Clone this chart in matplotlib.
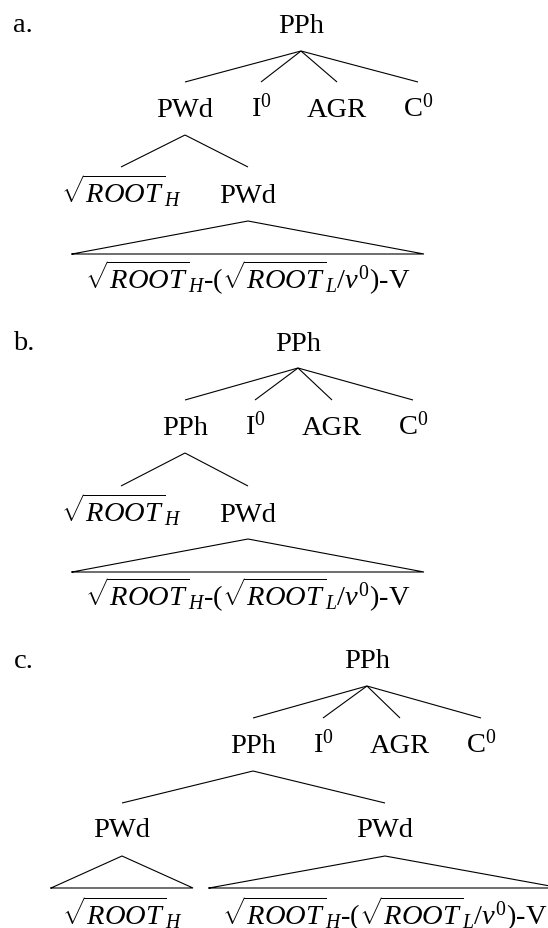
import matplotlib.pyplot as plt

# fonts: serif for labels, same family inside mathtext
plt.rcParams['font.family'] = 'Liberation Serif'
plt.rcParams['mathtext.fontset'] = 'custom'
plt.rcParams['mathtext.rm'] = 'Liberation Serif'
plt.rcParams['mathtext.it'] = 'Liberation Serif:italic'

FS = 20.5
LW = 0.8

'''
======================= tree labels =======================
'''
panel_tags = ['a.', 'b.', 'c.']
root_label = 'PPh'
head_labels = [['PWd', 'I$^0$', 'AGR', 'C$^0$'],
               ['PPh', 'I$^0$', 'AGR', 'C$^0$'],
               ['PPh', 'I$^0$', 'AGR', 'C$^0$']]
root_h = r'$\sqrt{ROOT}_H$'
full_word = r'$\sqrt{ROOT}_H$-($\sqrt{ROOT}_L/v^0$)-V'
low_labels = [[root_h, 'PWd'],
              [root_h, 'PWd'],
              ['PWd', 'PWd']]
# which low nodes get a roof, and what sits under it
roof_nodes = [[1], [1], [0, 1]]
leaf_labels = [[full_word], [full_word], [root_h, full_word]]

'''
======================= layout (pixels, y down) =======================
'''
tag_pos = [(13, 32), (13, 350), (14, 668)]
root_x = [301, 298, 367]
root_base = [33, 351, 668]
root_apex = [52, 369, 687]
head_x = [[185, 261, 337, 418], [185, 255, 332, 413], [253, 323, 400, 481]]
head_top = [83, 401, 719]
head_base = [117, 435, 753]
low_apex = [136, 454, 772]
low_x = [[121, 248], [121, 248], [122, 385]]
low_top = [168, 487, 804]
low_base = [203, 522, 837]
roof_apex = [222, 540, 857]
roof_y = [255, 573, 889]
roof_half = [[176], [176], [71, 176]]
leaf_base = [289, 606, 925]

fig = plt.figure(figsize=(5.48, 9.29), dpi=100)
ax = fig.add_axes([0, 0, 1, 1])
ax.set_xlim(0, 548)
ax.set_ylim(929, 0)
ax.axis('off')


def label(x, y, s, ha='center'):
    ax.text(x, y, s, fontsize=FS, ha=ha, va='baseline', color='black')


def branch(x0, y0, xs, y1):
    for x in xs:
        ax.plot([x0, x], [y0, y1], color='black', lw=LW, solid_capstyle='butt')


def roof(x0, y0, half, yb):
    ax.plot([x0 - half, x0, x0 + half, x0 - half], [yb, y0, yb, yb],
            color='black', lw=LW, solid_joinstyle='miter')


for p in range(3):
    label(tag_pos[p][0], tag_pos[p][1], panel_tags[p], ha='left')
    label(root_x[p], root_base[p], root_label)
    branch(root_x[p], root_apex[p], head_x[p], head_top[p])
    for x, s in zip(head_x[p], head_labels[p]):
        label(x, head_base[p], s)

    # first head node dominates the lower level
    hx = head_x[p][0]
    branch(hx, low_apex[p], low_x[p], low_top[p])
    for x, s in zip(low_x[p], low_labels[p]):
        label(x, low_base[p], s)

    for k, n in enumerate(roof_nodes[p]):
        nx = low_x[p][n]
        roof(nx, roof_apex[p], roof_half[p][k], roof_y[p])
        label(nx, leaf_base[p], leaf_labels[p][k])

fig.savefig('out.png', dpi=100)
